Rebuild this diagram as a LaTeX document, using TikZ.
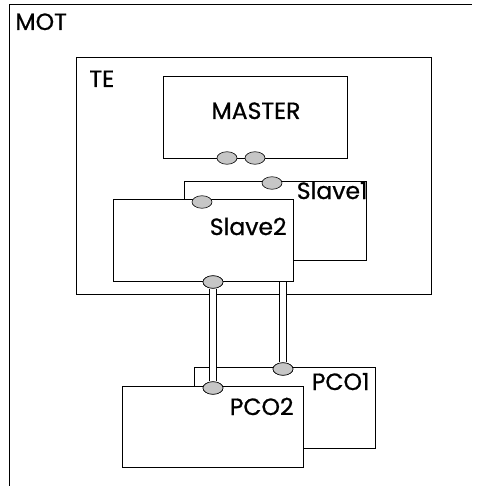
\documentclass[tikz,border=0pt]{standalone}
\usepackage{fontspec}
\newfontfamily\labfont{Poppins}[FakeBold=0.8]
\usetikzlibrary{shapes.geometric}
\begin{document}
\begin{tikzpicture}[x=1pt,y=-1pt,
  line width=0.9pt,
  box/.style={draw=black, fill=white},
  lbl/.style={inner sep=0pt, font=\labfont\fontsize{23.5}{23.5}\selectfont},
  port/.style={ellipse, draw=black, fill=gray!45, line width=0.6pt, minimum width=20pt, minimum height=12.5pt, inner sep=0pt},
  cable/.style={draw=black, line width=0.8pt, double=white, double distance=5.5pt}]
\useasboundingbox (0,0) rectangle (477,486);
% MOT frame
\draw (9,486) -- (9,4) -- (472,4);
\node[lbl, anchor=base west] (mot) at (15,30) {MOT};
% TE
\draw[box] (76,57) rectangle (431,294);
\node[lbl, anchor=base west] (te) at (89,87) {TE};
% MASTER
\draw[box] (163,76) rectangle (347,158);
\node[lbl, anchor=base] (master) at (256,119) {MASTER};
% Slave1 and PCO boxes
\draw[box] (184,181) rectangle (366,260);
\coordinate (s1b) at (283,260);
\draw[box] (194,367) rectangle (375,448);
\draw[box] (122,386) rectangle (303,467);
\node[port] (p1) at (283,369) {};
\draw[cable] (s1b) -- (p1.north);
% Slave2
\draw[box] (113,199) rectangle (293,281);
\node[port] (s2b) at (213,282) {};
\node[port] (p2) at (213,388) {};
\draw[cable] (s2b.south) -- (p2.north);
% ports
\node[port] (m1) at (227,158) {};
\node[port] (m2) at (255,158) {};
\node[port] (s1p) at (272,183) {};
\node[port] (s2p) at (202,202) {};
\node[port] at (s2b) {};
\node[port] at (p1) {};
\node[port] at (p2) {};
% labels
\node[lbl, anchor=base east] (sl1) at (368,199) {Slave1};
\node[lbl, anchor=base east] (sl2) at (287,235) {Slave2};
\node[lbl, anchor=base east] (pco1) at (370,390) {PCO1};
\node[lbl, anchor=base east] (pco2) at (294,415) {PCO2};
\end{tikzpicture}
\end{document}
